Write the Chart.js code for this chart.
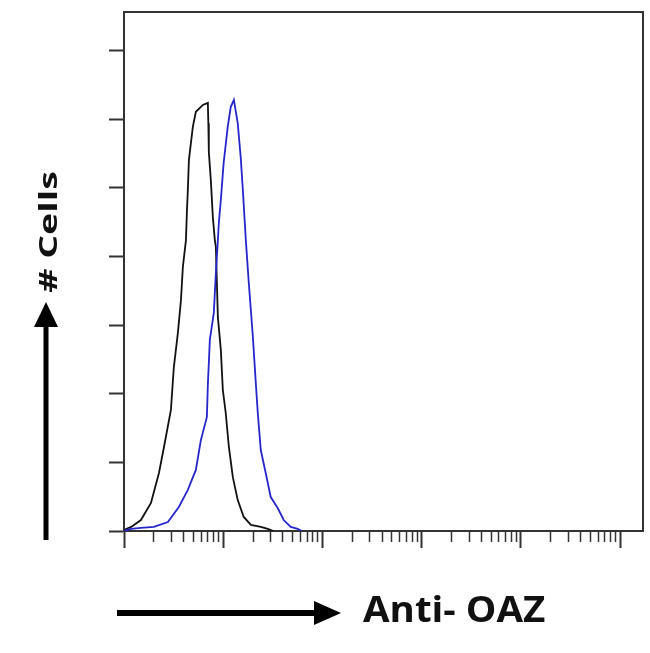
<!DOCTYPE html>
<html><head><meta charset="utf-8">
<script src="https://cdn.jsdelivr.net/npm/chart.js@4/dist/chart.umd.min.js"></script>
<style>
html,body{margin:0;padding:0;background:#fff;}
#wrap{position:relative;width:650px;height:653px;overflow:hidden;}
#c{position:absolute;left:0;top:0;}
svg{position:absolute;left:0;top:0;}
.lbl{position:absolute;font-family:'Open Sans',sans-serif;font-weight:700;color:#111;white-space:nowrap;line-height:1;}
#ylab{left:47px;top:232px;font-size:25px;transform:translate(-50%,-50%) rotate(-90deg) scaleX(1.5);}
#xlab{left:363px;top:591px;font-size:36px;transform-origin:0 0;transform:scaleX(1.07);}
</style></head><body>
<div id="wrap">
<canvas id="c" width="650" height="653"></canvas>
<svg width="650" height="653">
  <rect x="43.5" y="322" width="5" height="218" fill="#000"/>
  <polygon points="34,327 46,302 58,327" fill="#000"/>
  <rect x="117" y="610" width="200" height="6" fill="#000"/>
  <polygon points="314,601 341,613 314,625" fill="#000"/>
</svg>
<div id="ylab" class="lbl"># Cells</div>
<div id="xlab" class="lbl">Anti- OAZ</div>
</div>
<script>
// Fluorescence channel values (log axis) and cell counts
const blackX = [1, 1.05, 1.18, 1.48, 1.87, 2.25, 2.53, 2.97, 3.18, 3.49, 3.75, 3.92, 4.21, 4.30, 4.40, 4.51, 4.94, 5.30, 6.24, 7.00, 7.08, 7.16, 7.50, 7.86, 8.23, 8.43, 8.83, 9.46, 9.91, 10.6, 11.4, 12.5, 14.0, 16.1, 19.0, 23.9, 28.1, 32];
const blackY = [0, 0.6, 1.2, 3.2, 8.2, 16.9, 24.5, 35.3, 47.8, 57.7, 67.3, 77.0, 84.8, 92.7, 99.4, 108.2, 117.8, 122.2, 124.2, 124.8, 118.9, 110.5, 102.3, 91.5, 84.8, 82.8, 62.4, 52.8, 41.1, 34.4, 24.5, 15.7, 9.0, 4.1, 1.8, 1.2, 0.6, 0];
const blueX = [1, 1.18, 1.48, 2.00, 2.77, 3.57, 4.40, 5.30, 5.95, 6.84, 7.00, 7.33, 8.04, 8.43, 8.83, 9.03, 9.46, 10.1, 11.1, 11.9, 12.8, 14.0, 15.0, 15.7, 16.9, 18.1, 19.9, 21.3, 22.3, 23.9, 26.8, 30.1, 35.4, 40.7, 47.9, 56.3, 62];
const blueY = [0, 0.6, 0.9, 1.2, 2.6, 7.0, 12.0, 17.8, 26.5, 33.2, 42.6, 55.7, 63.6, 75.2, 84.8, 89.8, 96.5, 107.3, 117.8, 123.6, 125.7, 118.9, 109.0, 100.3, 84.8, 72.3, 56.6, 43.1, 34.4, 23.6, 16.9, 9.9, 6.7, 3.2, 1.2, 0.6, 0];
const yTicks = [0, 20, 40, 60, 80, 100, 120, 140];
const xDecades = [0, 1, 2, 3, 4, 5];
const xMin = 1, xMax = 170000, yMax = 151.3;

const pts = (xs, ys) => xs.map((x, i) => ({x: x, y: ys[i]}));
const isMajor = v => Math.abs(Math.log10(v) - Math.round(Math.log10(v))) < 1e-6;
const AX = '#333';

const frame = {
  id: 'frame',
  afterDraw(chart) {
    const a = chart.chartArea, ctx = chart.ctx;
    ctx.save();
    ctx.strokeStyle = AX; ctx.lineWidth = 2;
    ctx.beginPath();
    ctx.moveTo(a.left, a.top); ctx.lineTo(a.right, a.top); ctx.lineTo(a.right, a.bottom);
    ctx.stroke();
    ctx.restore();
  }
};

new Chart(document.getElementById('c'), {
  type: 'scatter',
  data: {
    datasets: [
      {data: pts(blueX, blueY), showLine: true, borderColor: '#2626cc', borderWidth: 1.8, pointRadius: 0, tension: 0},
      {data: pts(blackX, blackY), showLine: true, borderColor: '#111', borderWidth: 1.8, pointRadius: 0, tension: 0}
    ]
  },
  options: {
    responsive: false, animation: false, devicePixelRatio: 1,
    layout: {padding: {top: 12, right: 7, left: 0, bottom: 0}},
    plugins: {legend: {display: false}, tooltip: {enabled: false}},
    scales: {
      x: {
        type: 'logarithmic', min: xMin, max: xMax,
        afterBuildTicks(s) {
          const t = [];
          xDecades.forEach(d => { for (let m = 1; m <= 9; m++) { const v = m * Math.pow(10, d); if (v <= xMax) t.push({value: v}); } });
          s.ticks = t;
        },
        afterFit(s) { s.height = 122; },
        ticks: {display: false},
        grid: {
          drawOnChartArea: false, drawTicks: true, tickLength: 17,
          tickColor: AX,
          tickWidth: ctx => (ctx.tick && isMajor(ctx.tick.value)) ? 2 : 1.5,
          tickBorderDash: ctx => (ctx.tick && isMajor(ctx.tick.value)) ? [] : [10, 40]
        },
        border: {display: true, color: AX, width: 2}
      },
      y: {
        type: 'linear', min: 0, max: yMax,
        afterBuildTicks(s) { s.ticks = yTicks.map(v => ({value: v})); },
        afterFit(s) { s.width = 124; },
        ticks: {display: false},
        grid: {drawOnChartArea: false, drawTicks: true, tickLength: 15, tickColor: AX, tickWidth: 2},
        border: {display: true, color: AX, width: 2}
      }
    }
  },
  plugins: [frame]
});
</script>
</body></html>
